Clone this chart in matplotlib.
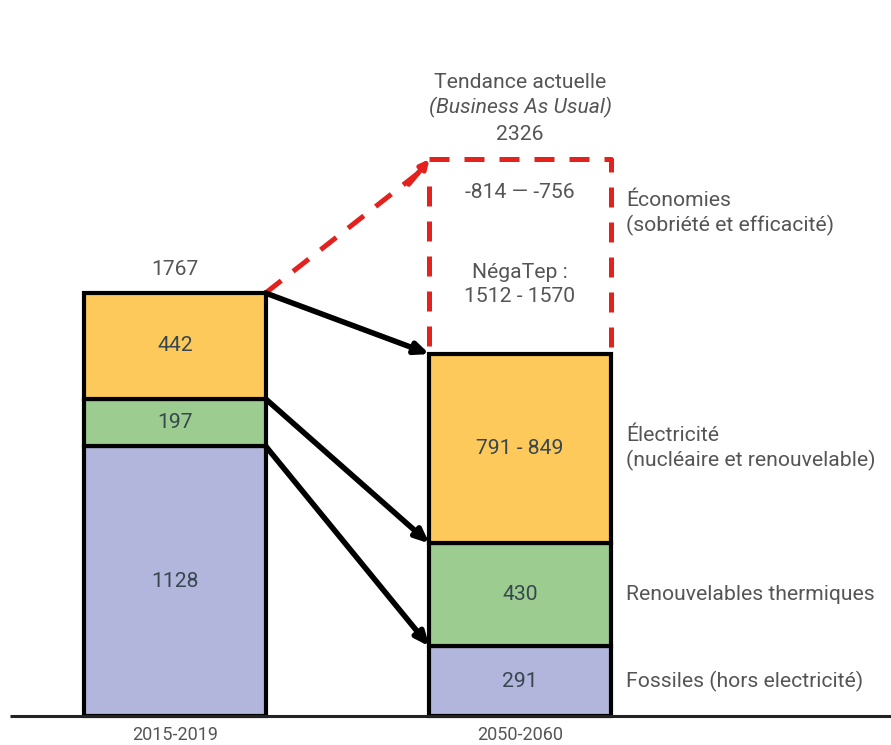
import matplotlib
matplotlib.use("Agg")
import matplotlib.pyplot as plt

plt.rcParams['font.family'] = ['Roboto', 'DejaVu Sans']

# Energy consumption (Mtep) by source
periods = ["2015-2019", "2050-2060"]
fossiles = [1128, 291]
renouvelables_thermiques = [197, 430]
electricite = [442, 791]
electricite_labels = ["442", "791 - 849"]
fossiles_labels = ["1128", "291"]
renouvelables_labels = ["197", "430"]
total_2015 = 1767
negatep_label = "NégaTep :\n1512 - 1570"
bau_value = 2326
economies_label = "-814 — -756"

series_names = [
    "Fossiles (hors electricité)",
    "Renouvelables thermiques",
    "Électricité\n(nucléaire et renouvelable)",
]
economies_name = "Économies\n(sobriété et efficacité)"

c_fossile = "#B2B5DC"
c_renouv = "#9CCC90"
c_elec = "#FCC95A"
c_red = "#E3221E"
c_text = "#555555"
c_value = "#37474F"

fig = plt.figure(figsize=(8.91, 7.45), dpi=100)
ax = fig.add_axes([0, 0, 1, 1])
ax.set_xlim(-0.507, 2.075)
ax.set_ylim(-121, 2991)
ax.axis("off")

x = [0, 1]
width = 0.525
edge = dict(edgecolor="black", linewidth=3)

ax.bar(x, fossiles, width, color=c_fossile, **edge, zorder=3)
bottom2 = fossiles
ax.bar(x, renouvelables_thermiques, width, bottom=bottom2, color=c_renouv, **edge, zorder=3)
bottom3 = [f + r for f, r in zip(fossiles, renouvelables_thermiques)]
ax.bar(x, electricite, width, bottom=bottom3, color=c_elec, **edge, zorder=3)
tops = [b + e for b, e in zip(bottom3, electricite)]

fs = 15.2
ls = 1.3
for i in range(2):
    ax.text(x[i], fossiles[i] / 2, fossiles_labels[i], ha="center", va="center",
            color=c_value, fontsize=fs, zorder=5)
    ax.text(x[i], bottom2[i] + renouvelables_thermiques[i] / 2, renouvelables_labels[i],
            ha="center", va="center", color=c_value, fontsize=fs, zorder=5)
    ax.text(x[i], bottom3[i] + electricite[i] / 2, electricite_labels[i],
            ha="center", va="center", color=c_value, fontsize=fs, zorder=5)

# baseline
ax.plot([-0.478, 2.075], [0, 0], color="#222222", lw=2.2, zorder=4, solid_capstyle="butt")

# period labels
for i in range(2):
    ax.text(x[i], -80, periods[i], ha="center", va="center", color=c_text, fontsize=13)

# total above first bar
ax.text(x[0], tops[0] + 100, str(total_2015), ha="center", va="center",
        color=c_text, fontsize=fs)

# flows between the two periods (black arrows)
left_edge = x[0] + width / 2
right_edge = x[1] - width / 2
for y0, y1 in [(tops[0], tops[1]), (bottom3[0], bottom3[1]), (bottom2[0], bottom2[1])]:
    ax.annotate("", xy=(right_edge, y1), xytext=(left_edge, y0),
                arrowprops=dict(arrowstyle="-|>,head_length=0.8,head_width=0.35",
                                color="black", lw=4, shrinkA=0, shrinkB=0),
                zorder=4)

# business-as-usual trend (red dashed)
dash = (0, (4, 3))
rlw = 3.6
ax.plot([left_edge, right_edge - 0.03], [tops[0], bau_value - 55], color=c_red, lw=rlw,
        linestyle=dash, zorder=2)
ax.annotate("", xy=(right_edge, bau_value), xytext=(right_edge - 0.06, bau_value - 105),
            arrowprops=dict(arrowstyle="-|>,head_length=0.5,head_width=0.25",
                            color=c_red, lw=rlw, shrinkA=0, shrinkB=0), zorder=2)
ax.plot([right_edge, x[1] + width / 2, x[1] + width / 2],
        [bau_value, bau_value, tops[1]], color=c_red, lw=rlw, linestyle=dash, zorder=2)
ax.plot([right_edge, right_edge], [bau_value - 110, tops[1]], color=c_red, lw=rlw,
        linestyle=dash, zorder=2)

# trend labels
ax.text(x[1], bau_value + 322, "Tendance actuelle", ha="center", va="center",
        color=c_text, fontsize=fs)
ax.text(x[1], bau_value + 217, "(Business As Usual)", ha="center", va="center",
        color=c_text, fontsize=fs, style="italic")
ax.text(x[1], bau_value + 104, str(bau_value), ha="center", va="center",
        color=c_text, fontsize=fs)
ax.text(x[1], bau_value - 138, economies_label, ha="center", va="center",
        color=c_text, fontsize=fs)
ax.text(x[1], tops[1] + 290, negatep_label, ha="center", va="center",
        color=c_text, fontsize=fs, linespacing=ls)

# series names on the right
tx = 1.307
ax.text(tx, fossiles[1] / 2, series_names[0], ha="left", va="center",
        color=c_text, fontsize=fs)
ax.text(tx, bottom2[1] + renouvelables_thermiques[1] / 2, series_names[1], ha="left",
        va="center", color=c_text, fontsize=fs)
ax.text(tx, bottom3[1] + electricite[1] / 2, series_names[2], ha="left", va="center",
        color=c_text, fontsize=fs, linespacing=ls)
ax.text(tx, bau_value - 225, economies_name, ha="left", va="center",
        color=c_text, fontsize=fs, linespacing=ls)

fig.savefig("out.png", dpi=100)
